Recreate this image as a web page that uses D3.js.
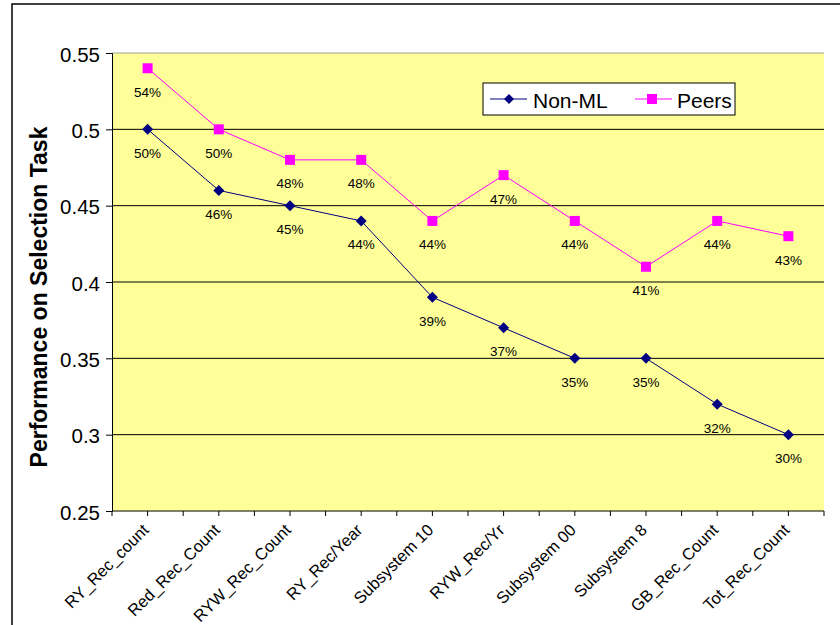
<!DOCTYPE html>
<html><head><meta charset="utf-8">
<script src="https://cdn.jsdelivr.net/npm/d3@7"></script>
<style>body{margin:0;background:#fff;font-family:Arial,"Liberation Sans",sans-serif}</style>
</head><body>
<script>
const categories = ["RY_Rec_count","Red_Rec_Count","RYW_Rec_Count","RY_Rec/Year","Subsystem 10","RYW_Rec/Yr","Subsystem 00","Subsystem 8","GB_Rec_Count","Tot_Rec_Count"];
const nonML = [0.50,0.46,0.45,0.44,0.39,0.37,0.35,0.35,0.32,0.30];
const peers = [0.54,0.50,0.48,0.48,0.44,0.47,0.44,0.41,0.44,0.43];
const yTicks = [0.25,0.3,0.35,0.4,0.45,0.5,0.55];
const yTickLabels = ["0.25","0.3","0.35","0.4","0.45","0.5","0.55"];
const seriesNames = ["Non-ML","Peers"];

const W=840,H=625;
const svg=d3.select("body").append("svg").attr("width",W).attr("height",H);
const font="Arial, 'Liberation Sans', sans-serif";
svg.append("rect").attr("x",12).attr("y",4).attr("width",W).attr("height",H).attr("fill","#fff").attr("stroke","#000").attr("stroke-width",1.5);

const L=112,R=824,T=53,B=511;
const x=d3.scaleBand().domain(categories).range([L,R]);
const y=d3.scaleLinear().domain([0.25,0.55]).range([B,T]);

svg.append("rect").attr("x",L).attr("y",T).attr("width",R-L).attr("height",B-T).attr("fill","#FFFF99");
svg.append("line").attr("x1",L).attr("x2",R).attr("y1",T).attr("y2",T).attr("stroke","#a0a0a0").attr("stroke-width",1);
svg.append("g").selectAll("line").data(yTicks.filter(v=>v>0.26&&v<0.54)).join("line")
 .attr("x1",L).attr("x2",R).attr("y1",d=>y(d)).attr("y2",d=>y(d)).attr("stroke","#000").attr("stroke-width",1);

// y axis
const ya=svg.append("g").attr("transform",`translate(${L},0)`)
 .call(d3.axisLeft(y).tickValues(yTicks).tickFormat((d,i)=>yTickLabels[i]).tickSize(6).tickPadding(6));
ya.select(".domain").attr("stroke","#000");
ya.selectAll("text").attr("font-size",20.5).attr("font-family",font).attr("fill","#000").attr("dy","0.4em");

// x axis ticks at half-band
const half=[];
for(let i=0;i<=categories.length*2;i++) half.push(L+i*x.bandwidth()/2);
const xa=svg.append("g");
xa.append("line").attr("x1",L).attr("x2",R).attr("y1",B).attr("y2",B).attr("stroke","#000");
xa.selectAll("line.t").data(half).join("line").attr("class","t").attr("x1",d=>d).attr("x2",d=>d).attr("y1",B).attr("y2",B+5).attr("stroke","#000");
xa.selectAll("text").data(categories).join("text")
 .attr("transform",d=>`translate(${x(d)+x.bandwidth()/2-2},${B+16}) rotate(-45)`)
 .attr("text-anchor","end").attr("dy","0.35em").attr("font-size",16.5).attr("font-family",font).text(d=>d);

// y title
svg.append("text").attr("transform",`translate(47,${297}) rotate(-90)`).attr("text-anchor","middle")
 .attr("font-size",23).attr("font-weight","bold").attr("font-family",font).text("Performance on Selection Task");

const cx=(d,i)=>x(categories[i])+x.bandwidth()/2;
const line=d3.line().x((d,i)=>cx(d,i)).y(d=>y(d));
function series(data,color,shape){
 svg.append("path").datum(data).attr("d",line).attr("fill","none").attr("stroke",color).attr("stroke-width",1);
 const g=svg.append("g");
 if(shape==="diamond"){
  g.selectAll("path").data(data).join("path").attr("d","M0,-5.5L5.5,0L0,5.5L-5.5,0Z")
   .attr("transform",(d,i)=>`translate(${cx(d,i)},${y(d)})`).attr("fill",color);
 } else {
  g.selectAll("rect").data(data).join("rect").attr("x",(d,i)=>cx(d,i)-5).attr("y",d=>y(d)-5).attr("width",10).attr("height",10).attr("fill",color);
 }
 svg.append("g").selectAll("text").data(data).join("text").attr("x",(d,i)=>cx(d,i)).attr("y",d=>y(d)+28.5)
  .attr("text-anchor","middle").attr("font-size",13.5).attr("font-family",font).text(d=>Math.round(d*100)+"%");
}
series(nonML,"#000080","diamond");
series(peers,"#FF00FF","square");

// legend
const lg=svg.append("g");
lg.append("rect").attr("x",483).attr("y",83).attr("width",252).attr("height",32).attr("fill","#fff").attr("stroke","#000");
lg.append("line").attr("x1",490).attr("x2",527).attr("y1",99).attr("y2",99).attr("stroke","#000080");
lg.append("path").attr("d","M0,-5L5,0L0,5L-5,0Z").attr("transform","translate(509,99)").attr("fill","#000080");
lg.append("text").attr("x",533).attr("y",108).attr("font-size",21).attr("font-family",font).text(seriesNames[0]);
lg.append("line").attr("x1",635).attr("x2",672).attr("y1",99).attr("y2",99).attr("stroke","#FF00FF");
lg.append("rect").attr("x",647).attr("y",94).attr("width",10).attr("height",10).attr("fill","#FF00FF");
lg.append("text").attr("x",677).attr("y",108).attr("font-size",21).attr("font-family",font).text(seriesNames[1]);
</script>
</body></html>
